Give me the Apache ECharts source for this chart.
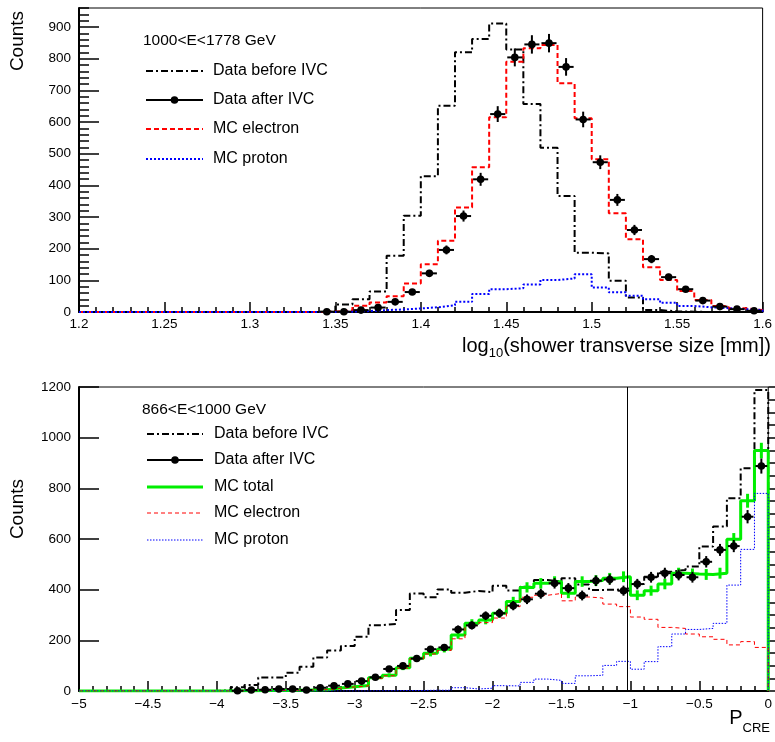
<!DOCTYPE html>
<html>
<head>
<meta charset="utf-8">
<script src="https://cdn.jsdelivr.net/npm/echarts@6/dist/echarts.min.js"></script>
<style>html,body{margin:0;padding:0;background:#fff}#c{width:775px;height:742px}</style>
</head>
<body>
<div id="c"></div>
<script>
// ---------------- DATA ----------------
// Top panel: 1000<E<1778 GeV, bins of 0.01 from 1.20 to 1.60 (40 bins)
const topBinStart = 1.2;
const topBinWidth = 0.01;
const topBefore = [0,0,0,0,0,0,0,0,0,0, 0,0,0,0,2,24,40,65,178,304, 429,651,820,862,911,829,657,519,366,187, 185,99,46,6,2,1,0,0,0,0];
const topAfter  = [0,0,0,0,0,0,0,0,0,0, 0,0,0,0,1,1,6,14,32,63, 122,196,303,419,625,804,845,849,774,608, 473,354,259,167,110,72,36,17,9,4];
const topElectron = [0,0,0,0,0,0,0,0,0,0, 0,0,0,0,1,5,20,30,50,90, 151,225,330,457,615,790,833,843,722,612, 482,312,230,141,101,66,38,19,12,6];
const topProton = [0,0,0,0,0,0,0,0,0,0, 0,0,0,0,0,1,3,6,8,11, 15,21,32,57,72,75,87,101,106,119, 77,62,51,40,29,19,15,12,9,6];
const topTitle = '1000<E<1778 GeV';
const topLegend = ['Data before IVC', 'Data after IVC', 'MC electron', 'MC proton'];

// Bottom panel: 866<E<1000 GeV, bins of 0.1 from -5 to 0 (50 bins)
const botBinStart = -5;
const botBinWidth = 0.1;
const botBefore = [0,0,0,0,0,0,0,0,0,0, 3,15,24,53,53,72,96,132,160,178, 214,260,265,320,385,370,401,388,395,390, 415,397,412,438,432,445,420,399,400,405, 422,451,471,478,491,570,649,761,879,1188];
const botAfter = [0,0,0,0,0,0,0,0,0,0, 0,1,4,5,8,8,4,13,21,28, 39,54,87,99,128,165,172,243,259,297, 307,337,362,384,425,406,377,435,440,396, 422,449,465,458,449,510,557,572,688,888];
const botTotal = [0,0,0,0,0,0,0,0,0,0, 0,1,1,2,2,3,4,5,12,17, 22,52,62,92,129,149,165,221,267,280, 307,353,409,425,432,386,432,436,445,451, 378,396,422,465,462,460,465,599,751,949];
const botElectron = [0,0,0,0,0,0,0,0,0,0, 0,1,1,2,2,3,4,5,11,16, 20,50,60,90,127,146,160,206,258,270, 288,333,370,378,385,356,371,367,343,333, 292,283,251,247,225,214,204,182,195,172];
const botProton = [0,0,0,0,0,0,0,0,0,0, 0,0,0,0,0,0,0,0,0,0, 0,1,1,2,2,3,3,13,8,11, 21,20,34,47,42,30,60,62,101,117, 86,116,175,225,243,247,267,418,559,780];
const botCut = -1.025;
const botTitle = '866<E<1000 GeV';
const botLegend = ['Data before IVC', 'Data after IVC', 'MC total', 'MC electron', 'MC proton'];

// Axis tick settings
const topXTicks = {min: 1.2, max: 1.6, major: 0.05, minor: 0.01};
const topYTicks = {min: 0, max: 960, major: 100, minor: 20};
const botXTicks = {min: -5, max: 0, major: 0.5, minor: 0.1};
const botYTicks = {min: 0, max: 1200, major: 200, minor: 50};

// ---------------- HELPERS ----------------
const FONT = 'Liberation Sans, Arial, Helvetica, sans-serif';
const r4 = v => Math.round(v * 10000) / 10000;

function histData(start, width, vals) {
  const d = [[start, 0]];
  vals.forEach((v, i) => d.push([r4(start + i * width), v]));
  const end = r4(start + vals.length * width);
  d.push([end, vals[vals.length - 1]]);
  d.push([end, 0]);
  return d;
}
function centers(start, width, vals) {
  const d = [];
  vals.forEach((v, i) => { if (v > 0) d.push([r4(start + (i + 0.5) * width), v]); });
  return d;
}
function stepSeries(name, gi, start, width, vals, color, lw, dash, z) {
  return {
    name, type: 'line', xAxisIndex: gi * 2, yAxisIndex: gi * 2,
    data: histData(start, width, vals), step: 'end', symbol: 'none', showSymbol: false,
    lineStyle: {color, width: lw, type: dash}, clip: true, z, silent: true
  };
}
function errSeries(name, gi, start, width, vals, color, lw, withMarker, withHoriz, z) {
  return {
    name, type: 'custom', xAxisIndex: gi * 2, yAxisIndex: gi * 2, z, silent: true,
    data: centers(start, width, vals), encode: {x: 0, y: 1},
    renderItem: function (params, api) {
      const x = api.value(0), y = api.value(1), e = Math.sqrt(y);
      const c = api.coord([x, y]);
      const t = api.coord([x, y + e]);
      const b = api.coord([x, Math.max(0, y - e)]);
      const ch = [{type: 'line', shape: {x1: c[0], y1: t[1], x2: c[0], y2: b[1]}, style: {stroke: color, lineWidth: lw}}];
      if (withHoriz) {
        const l = api.coord([x - width / 2, y]);
        const r = api.coord([x + width / 2, y]);
        ch.push({type: 'line', shape: {x1: l[0] + 1, y1: c[1], x2: r[0] - 1, y2: c[1]}, style: {stroke: color, lineWidth: lw}});
      }
      if (withMarker) ch.push({type: 'circle', shape: {cx: c[0], cy: c[1], r: 3.8}, style: {fill: color}});
      return {type: 'group', children: ch};
    }
  };
}
function axisPair(dim, gi, t, labelFmt, majorLen, minorLen, margin) {
  const pos = dim === 'x' ? 'bottom' : 'left';
  const major = {
    gridIndex: gi, type: 'value', position: pos, offset: 0,
    min: t.min, max: t.max, interval: t.major,
    axisLine: {show: true, onZero: false, lineStyle: {color: '#000', width: 2}},
    axisTick: {show: true, inside: true, length: majorLen, lineStyle: {color: '#000', width: 1.5}},
    axisLabel: {color: '#000', fontSize: 13.5, fontFamily: FONT, margin, showMaxLabel: t.max % t.major === 0, formatter: labelFmt},
    splitLine: {show: false}
  };
  const minor = {
    gridIndex: gi, type: 'value', position: pos, offset: 0,
    min: t.min, max: t.max, interval: t.minor,
    axisLine: {show: false}, axisLabel: {show: false},
    axisTick: {show: true, inside: true, length: minorLen, lineStyle: {color: '#000', width: 1.5}},
    splitLine: {show: false}
  };
  return [major, minor];
}
const plainFmt = v => String(v).replace('-', '\u2212');

// ---------------- LEGENDS & TITLES (graphic) ----------------
const graphics = [];
function legendRow(x0, x1, y, kind, label, tx) {
  const mk = (lw, color, dash) => ({type: 'line', shape: {x1: x0, y1: y, x2: x1, y2: y}, style: {stroke: color, lineWidth: lw, lineDash: dash}, silent: true});
  if (kind === 'before') graphics.push(mk(2, '#000', [7, 3, 2, 3]));
  if (kind === 'after') { graphics.push(mk(2, '#000', null)); graphics.push({type: 'circle', shape: {cx: (x0 + x1) / 2, cy: y, r: 3.8}, style: {fill: '#000'}}); }
  if (kind === 'total') graphics.push(mk(3, '#00ee00', null));
  if (kind === 'eThick') graphics.push(mk(2, '#ff0000', [5, 3]));
  if (kind === 'pThick') graphics.push(mk(2, '#0000ff', [2, 2]));
  if (kind === 'eThin') graphics.push(mk(1, '#ff0000', [4, 3]));
  if (kind === 'pThin') graphics.push(mk(1, '#0000ff', [1.5, 1.5]));
  graphics.push({type: 'text', x: tx, y, style: {text: label, fontSize: 16, fontFamily: FONT, fill: '#000', verticalAlign: 'middle', align: 'left'}});
}
graphics.push({type: 'text', x: 143, y: 41, style: {text: topTitle, fontSize: 15.5, fontFamily: FONT, fill: '#000', verticalAlign: 'middle'}});
const topKinds = ['before', 'after', 'eThick', 'pThick'];
const topRowsY = [71, 100, 129, 159];
topLegend.forEach((l, i) => legendRow(146, 203, topRowsY[i], topKinds[i], l, 213));
graphics.push({type: 'text', x: 142, y: 410, style: {text: botTitle, fontSize: 15.5, fontFamily: FONT, fill: '#000', verticalAlign: 'middle'}});
const botKinds = ['before', 'after', 'total', 'eThin', 'pThin'];
const botRowsY = [434, 460, 487, 513, 540];
botLegend.forEach((l, i) => legendRow(147, 203, botRowsY[i], botKinds[i], l, 214));
// axis titles
graphics.push({type: 'text', x: 18, y: 41, rotation: Math.PI / 2, style: {text: 'Counts', fontSize: 19, fontFamily: FONT, fill: '#000', align: 'center', verticalAlign: 'middle'}});
graphics.push({type: 'text', x: 18, y: 509, rotation: Math.PI / 2, style: {text: 'Counts', fontSize: 19, fontFamily: FONT, fill: '#000', align: 'center', verticalAlign: 'middle'}});
graphics.push({type: 'text', x: 771, y: 346, style: {
  text: '{a|log}{b|10}{a|(shower transverse size [mm])}', align: 'right', verticalAlign: 'middle', fill: '#000',
  rich: {a: {fontSize: 20, fontFamily: FONT, fill: '#000'}, b: {fontSize: 13, fontFamily: FONT, fill: '#000', padding: [14, 0, 0, 0]}}
}});
graphics.push({type: 'text', x: 770, y: 718, style: {
  text: '{a|P}{b|CRE}', align: 'right', verticalAlign: 'middle', fill: '#000',
  rich: {a: {fontSize: 20, fontFamily: FONT, fill: '#000'}, b: {fontSize: 13, fontFamily: FONT, fill: '#000', padding: [20, 0, 0, 0]}}
}});

// ---------------- OPTION ----------------
const option = {
  animation: false,
  backgroundColor: '#fff',
  textStyle: {fontFamily: FONT},
  grid: [
    {left: 79, top: 8, width: 689, height: 304, show: true, borderColor: '#000', borderWidth: 1, backgroundColor: 'transparent'},
    {left: 79, top: 387, width: 690, height: 304, show: true, borderColor: '#000', borderWidth: 1, backgroundColor: 'transparent'}
  ],
  xAxis: [
    ...axisPair('x', 0, topXTicks, plainFmt, 10, 5, 5),
    ...axisPair('x', 1, botXTicks, plainFmt, 10, 5, 6)
  ],
  yAxis: [
    ...axisPair('y', 0, topYTicks, plainFmt, 20, 10, 8),
    ...axisPair('y', 1, botYTicks, plainFmt, 20, 10, 8)
  ],
  series: [
    stepSeries('Data before IVC', 0, topBinStart, topBinWidth, topBefore, '#000', 2, [7, 3, 2, 3], 2),
    stepSeries('MC electron', 0, topBinStart, topBinWidth, topElectron, '#ff0000', 2, [5, 3], 3),
    stepSeries('MC proton', 0, topBinStart, topBinWidth, topProton, '#0000ff', 2, [2, 2], 3),
    errSeries('Data after IVC', 0, topBinStart, topBinWidth, topAfter, '#000', 2, true, true, 5),

    Object.assign(stepSeries('Data before IVC', 1, botBinStart, botBinWidth, botBefore, '#000', 2, [7, 3, 2, 3], 2), {
      markLine: {silent: true, symbol: 'none', label: {show: false}, lineStyle: {color: '#000', width: 1, type: 'solid'}, data: [{xAxis: botCut}]}
    }),
    stepSeries('MC total', 1, botBinStart, botBinWidth, botTotal, '#00ee00', 3, 'solid', 3),
    errSeries('MC total err', 1, botBinStart, botBinWidth, botTotal, '#00ee00', 3, false, false, 3),
    stepSeries('MC electron', 1, botBinStart, botBinWidth, botElectron, '#ff0000', 1, [4, 3], 4),
    stepSeries('MC proton', 1, botBinStart, botBinWidth, botProton, '#0000ff', 1, [1.5, 1.5], 4),
    errSeries('Data after IVC', 1, botBinStart, botBinWidth, botAfter, '#000', 2, true, true, 5)
  ],
  graphic: graphics
};
const chart = echarts.init(document.getElementById('c'), null, {renderer: 'canvas', width: 775, height: 742});
chart.setOption(option);
</script>
</body>
</html>
